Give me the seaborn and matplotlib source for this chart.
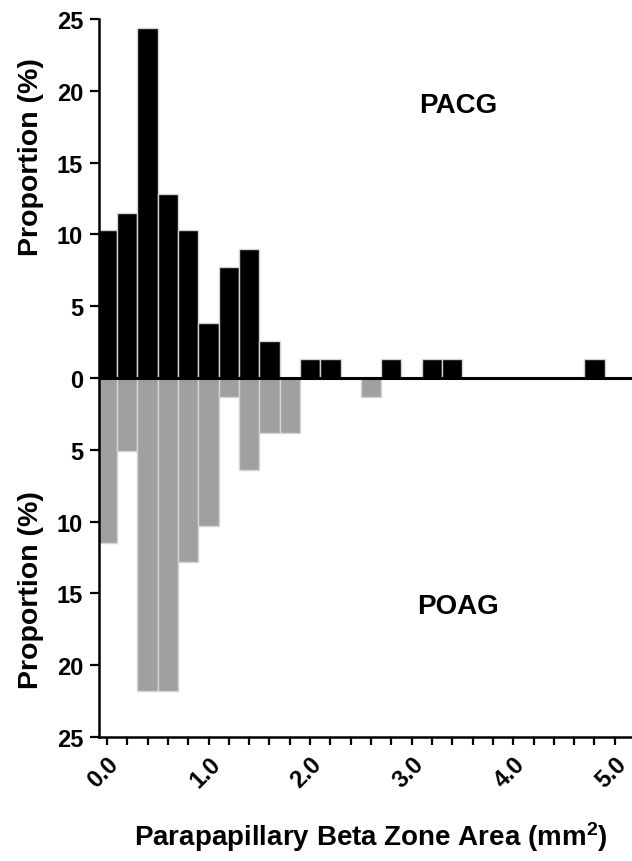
import matplotlib
matplotlib.use('Agg')
import matplotlib.pyplot as plt
import numpy as np
import seaborn as sns

# bin centres (mm^2), bin width 0.2
bin_centers = [round(0.2 * i, 1) for i in range(25)]

# proportion (%) per bin
pacg_pct = [10.3, 11.5, 24.4, 12.8, 10.3, 3.8, 7.7, 9.0, 2.6, 0.0,
            1.3, 1.3, 0.0, 0.0, 1.3, 0.0, 1.3, 1.3, 0.0, 0.0,
            0.0, 0.0, 0.0, 0.0, 1.3]
poag_pct = [11.5, 5.1, 21.8, 21.8, 12.8, 10.3, 1.3, 6.4, 3.8, 3.8,
            0.0, 0.0, 0.0, 1.3, 0.0, 0.0, 0.0, 0.0, 0.0, 0.0,
            0.0, 0.0, 0.0, 0.0, 0.0]

y_ticks = [25, 20, 15, 10, 5, 0, -5, -10, -15, -20, -25]
y_ticklabels = ['25', '20', '15', '10', '5', '0', '5', '10', '15', '20', '25']
x_ticks = [0.0, 1.0, 2.0, 3.0, 4.0, 5.0]
x_ticklabels = ['0.0', '1.0', '2.0', '3.0', '4.0', '5.0']

sns.set_style('ticks')
plt.rcParams['font.family'] = ['Liberation Sans', 'DejaVu Sans']
plt.rcParams['font.weight'] = 'bold'
plt.rcParams['text.color'] = 'black'
plt.rcParams['xtick.color'] = 'black'
plt.rcParams['ytick.color'] = 'black'
plt.rcParams['axes.labelcolor'] = 'black'
plt.rcParams['mathtext.fontset'] = 'custom'
plt.rcParams['mathtext.rm'] = 'Liberation Sans:bold'
plt.rcParams['mathtext.it'] = 'Liberation Sans:bold'
plt.rcParams['mathtext.bf'] = 'Liberation Sans:bold'

fig = plt.figure(figsize=(6.32, 8.62), dpi=100)
ax = fig.add_axes([99 / 632, 1 - 738 / 862, 1 - 99 / 632, (738 - 20) / 862])

# upper histogram (PACG)
sns.histplot(x=bin_centers, weights=pacg_pct, binwidth=0.2, binrange=(-0.1, 4.9),
             color='black', edgecolor='#d4d4d4', linewidth=1, alpha=1, ax=ax)
# lower histogram (POAG), mirrored downwards
sns.histplot(x=bin_centers, weights=[-v for v in poag_pct], binwidth=0.2,
             binrange=(-0.1, 4.9), color='#a0a0a0', edgecolor='#d4d4d4',
             linewidth=1, alpha=1, ax=ax)

ax.axhline(0, color='black', lw=2.2, zorder=5)

ax.set_xlim(-0.079, 5.17)
ax.set_ylim(-25, 25)
ax.set_yticks(y_ticks)
ax.set_yticklabels(y_ticklabels)
ax.set_xticks(x_ticks)
ax.set_xticklabels(x_ticklabels, rotation=45, ha='right', rotation_mode='anchor')
ax.set_xticks(np.arange(0, 5.01, 0.2), minor=True)
ax.tick_params(axis='both', labelsize=17, width=1.6, color='black',
               labelcolor='black', direction='out')
ax.tick_params(axis='y', length=6.5, pad=5)
ax.tick_params(axis='x', which='both', length=6, width=1.6, pad=5)
for lab in ax.get_xticklabels() + ax.get_yticklabels():
    lab.set_fontweight('bold')

sns.despine(ax=ax)
for side in ['left', 'bottom']:
    ax.spines[side].set_linewidth(1.8)
    ax.spines[side].set_color('black')
ax.set_xlabel('')
ax.set_ylabel('')

ax.text(3.46, 19.0, 'PACG', fontsize=20, fontweight='bold', ha='center', va='center')
ax.text(3.46, -15.9, 'POAG', fontsize=20, fontweight='bold', ha='center', va='center')

fig.text(31 / 632, 1 - 157 / 862, 'Proportion (%)', rotation=90, fontsize=20.5,
         fontweight='bold', ha='center', va='center')
fig.text(31 / 632, 1 - 590 / 862, 'Proportion (%)', rotation=90, fontsize=20.5,
         fontweight='bold', ha='center', va='center')
fig.text(371 / 632, 1 - 837 / 862, r'Parapapillary Beta Zone Area (mm$^{2}$)',
         fontsize=20, fontweight='bold', ha='center', va='center')

fig.savefig('out.png', dpi=100)
